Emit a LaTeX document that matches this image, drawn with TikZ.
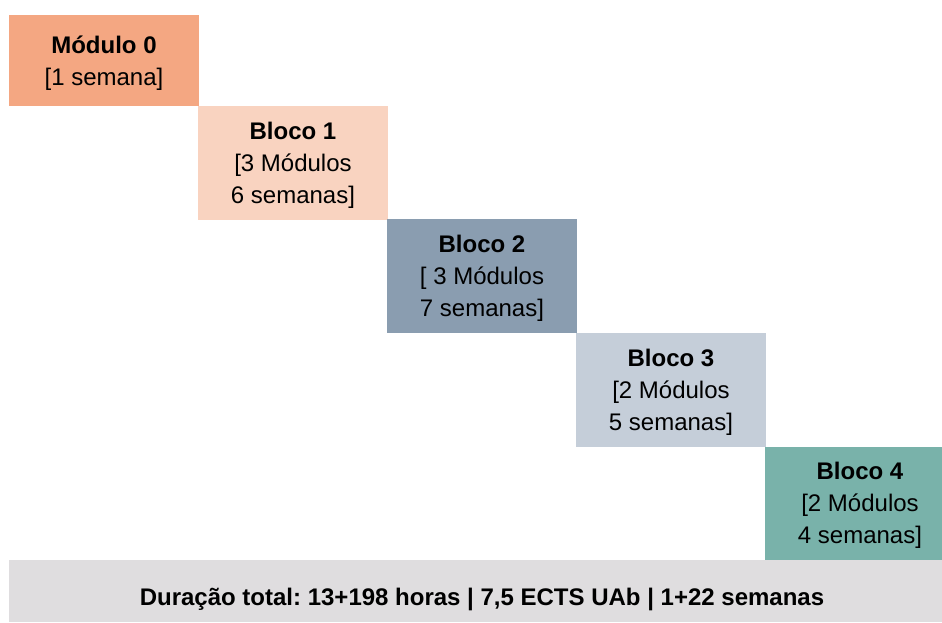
\documentclass[tikz,border=0pt]{standalone}
\usepackage{fontspec}
\setmainfont{Liberation Sans}
\frenchspacing
\definecolor{cMod}{HTML}{F4A782}
\definecolor{cB1}{HTML}{F9D3C0}
\definecolor{cB2}{HTML}{8A9DB0}
\definecolor{cB3}{HTML}{C5CED9}
\definecolor{cB4}{HTML}{79B2AA}
\definecolor{cBar}{HTML}{DFDDDF}
\tikzset{
  lbl/.style={align=center, font=\fontsize{24}{32}\selectfont, text=black, inner sep=0pt},
}
\begin{document}
\begin{tikzpicture}[x=1pt,y=-1pt]
\useasboundingbox (0,0) rectangle (942,623);
\fill[white] (0,0) rectangle (942,623);
\fill[cMod] (9,15) rectangle (199,106);
\fill[cB1] (198,106) rectangle (388,220);
\fill[cB2] (387,219) rectangle (577,333);
\fill[cB3] (576,333) rectangle (766,447);
\fill[cB4] (765,447) rectangle (942,560);
\fill[cBar] (9,560) rectangle (942,622);
\node[lbl] (m0) at (104,63) {\textbf{Módulo 0}\\{}[1 semana]};
\node[lbl] (b1) at (293,165) {\textbf{Bloco 1}\\{}[3 Módulos\\6 semanas]};
\node[lbl] (b2) at (482,278) {\textbf{Bloco 2}\\{}[ 3 Módulos\\7 semanas]};
\node[lbl] (b3) at (671,392) {\textbf{Bloco 3}\\{}[2 Módulos\\5 semanas]};
\node[lbl] (b4) at (860,505) {\textbf{Bloco 4}\\{}[2 Módulos\\4 semanas]};
\node[lbl, font=\fontsize{24}{32}\bfseries\selectfont] (tot) at (482,599) {Duração total: 13+198 horas | 7,5 ECTS UAb | 1+22 semanas};
\end{tikzpicture}
\end{document}
